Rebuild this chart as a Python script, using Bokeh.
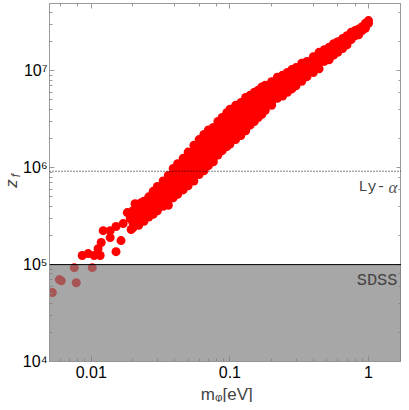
import math
from bokeh.plotting import figure
from bokeh.models import Label, Span, BoxAnnotation, LogAxis, Range1d, ColumnDataSource
from bokeh.embed import file_html
from bokeh.resources import INLINE

# ---------------- data ----------------
# sparse low-mass points (m_phi [eV], z_f)
low_m = [0.00524, 0.00589, 0.00608, 0.0078, 0.00755, 0.01017,
         0.00861, 0.0095, 0.0105, 0.0116, 0.0112, 0.0118, 0.0151, 0.0164,
         0.0137, 0.0122, 0.0137, 0.0151, 0.0170, 0.0194, 0.0182, 0.0191,
         0.0207, 0.0225, 0.0229, 0.0207]
low_z = [5.15e4, 7.0e4, 6.8e4, 6.5e4, 9.3e4, 9.3e4,
         1.24e5, 1.30e5, 1.24e5, 1.24e5, 1.46e5, 1.69e5, 1.36e5, 1.77e5,
         1.90e5, 2.24e5, 2.24e5, 2.47e5, 2.65e5, 2.30e5, 3.44e5, 2.98e5,
         3.2e5, 3.78e5, 4.35e5, 4.25e5]

# dense band: masses and the z_f values read at each mass
band_m = [0.02, 0.022, 0.024, 0.026, 0.028, 0.03, 0.033, 0.036, 0.039, 0.042,
          0.046, 0.05, 0.055, 0.06, 0.065, 0.07, 0.076, 0.082, 0.088, 0.095,
          0.1, 0.11, 0.12, 0.13, 0.14, 0.15, 0.16, 0.17, 0.18, 0.2,
          0.22, 0.24, 0.26, 0.28, 0.3, 0.33, 0.36, 0.4, 0.44, 0.48,
          0.52, 0.56, 0.6, 0.65, 0.7, 0.75, 0.8, 0.85, 0.9, 0.95, 1.0]
band_z = [
    [3.6e5, 3.1e5, 2.7e5, 2.4e5],
    [4.1e5, 3.6e5, 3.2e5, 2.8e5, 2.55e5],
    [4.5e5, 4.0e5, 3.5e5, 3.1e5, 2.8e5],
    [5.0e5, 4.5e5, 4.0e5, 3.5e5, 3.1e5],
    [5.7e5, 5.0e5, 4.5e5, 4.0e5, 3.5e5, 3.3e5],
    [6.4e5, 5.8e5, 5.1e5, 4.6e5, 4.1e5, 3.6e5],
    [7.3e5, 6.5e5, 5.8e5, 5.1e5, 4.6e5, 4.0e5],
    [8.3e5, 7.3e5, 6.5e5, 5.8e5, 5.1e5, 4.6e5, 4.1e5],
    [9.8e5, 8.6e5, 7.6e5, 6.8e5, 6.0e5, 5.3e5, 4.9e5],
    [1.1e6, 9.3e5, 8.3e5, 7.3e5, 6.5e5, 5.8e5, 5.3e5],
    [1.25e6, 1.1e6, 9.6e5, 8.5e5, 7.5e5, 6.7e5, 5.9e5],
    [1.45e6, 1.3e6, 1.15e6, 1.0e6, 9.0e5, 8.0e5, 7.1e5, 6.5e5],
    [1.7e6, 1.5e6, 1.33e6, 1.18e6, 1.05e6, 9.3e5, 8.3e5, 7.3e5],
    [1.95e6, 1.75e6, 1.55e6, 1.38e6, 1.22e6, 1.08e6, 9.6e5, 8.5e5],
    [2.2e6, 1.95e6, 1.7e6, 1.5e6, 1.33e6, 1.18e6, 1.05e6, 9.3e5],
    [2.45e6, 2.15e6, 1.9e6, 1.7e6, 1.5e6, 1.33e6, 1.18e6, 1.05e6],
    [2.6e6, 2.3e6, 2.05e6, 1.8e6, 1.6e6, 1.42e6, 1.25e6, 1.15e6],
    [3.0e6, 2.7e6, 2.4e6, 2.1e6, 1.9e6, 1.7e6, 1.5e6, 1.35e6],
    [3.3e6, 2.9e6, 2.6e6, 2.3e6, 2.05e6, 1.8e6, 1.6e6, 1.5e6],
    [3.7e6, 3.3e6, 2.9e6, 2.55e6, 2.25e6, 2.0e6, 1.8e6, 1.65e6],
    [4.0e6, 3.5e6, 3.1e6, 2.75e6, 2.45e6, 2.15e6, 1.9e6, 1.75e6],
    [4.4e6, 3.9e6, 3.4e6, 3.0e6, 2.7e6, 2.4e6, 2.1e6, 1.95e6],
    [4.7e6, 4.2e6, 3.7e6, 3.3e6, 2.9e6, 2.6e6, 2.3e6, 2.15e6],
    [5.3e6, 4.7e6, 4.2e6, 3.7e6, 3.3e6, 2.9e6, 2.6e6, 2.4e6],
    [5.6e6, 5.0e6, 4.4e6, 3.9e6, 3.5e6, 3.1e6, 2.75e6],
    [6.0e6, 5.3e6, 4.7e6, 4.2e6, 3.7e6, 3.3e6, 3.0e6],
    [6.3e6, 5.6e6, 5.0e6, 4.4e6, 3.9e6, 3.5e6, 3.3e6],
    [6.8e6, 6.0e6, 5.3e6, 4.7e6, 4.2e6, 3.8e6, 3.55e6],
    [7.1e6, 6.3e6, 5.6e6, 5.0e6, 4.4e6, 3.9e6],
    [7.7e6, 6.8e6, 6.0e6, 5.3e6, 4.7e6, 4.4e6],
    [8.6e6, 7.6e6, 6.7e6, 5.9e6, 5.2e6],
    [9.0e6, 8.0e6, 7.0e6, 6.2e6, 5.5e6],
    [9.6e6, 8.5e6, 7.5e6, 6.6e6, 6.0e6],
    [1.03e7, 9.1e6, 8.0e6, 7.1e6, 6.5e6],
    [1.08e7, 9.6e6, 8.5e6, 7.5e6, 7.0e6],
    [1.2e7, 1.05e7, 9.3e6, 8.2e6, 7.8e6],
    [1.25e7, 1.1e7, 9.8e6, 8.7e6],
    [1.4e7, 1.25e7, 1.1e7, 9.6e6],
    [1.55e7, 1.35e7, 1.2e7, 1.05e7],
    [1.65e7, 1.45e7, 1.25e7],
    [1.75e7, 1.55e7, 1.3e7],
    [1.9e7, 1.65e7, 1.45e7],
    [2.0e7, 1.75e7, 1.55e7],
    [2.15e7, 1.9e7, 1.7e7],
    [2.3e7, 2.05e7, 1.85e7],
    [2.5e7, 2.1e7],
    [2.6e7, 2.3e7],
    [2.7e7, 2.35e7],
    [2.85e7, 2.6e7],
    [3.1e7, 2.75e7],
    [3.3e7, 3.1e7],
]

sdss_z = 1e5       # SDSS bound
lya_z = 9.2e5      # Lyman-alpha bound
x_lo, x_hi = 0.005, 1.73
y_lo, y_hi = 1e4, 4.95e7
x_ticks = {0.01: "0.01", 0.1: "0.1", 1: "1"}
y_ticks = {10000: "10\u2074", 100000: "10\u2075", 1000000: "10\u2076", 10000000: "10\u2077"}

# ---------------- assemble ----------------
xs = list(low_m)
ys = list(low_z)
for m, zl in zip(band_m, band_z):
    for z in zl:
        xs.append(m)
        ys.append(z)
src = ColumnDataSource(dict(m=xs, z=ys))

FRAME = "#9a9a9a"
SANS = "Liberation Sans"

p = figure(width=401, height=402, x_axis_type="log", y_axis_type="log",
           x_range=Range1d(x_lo, x_hi), y_range=Range1d(y_lo, y_hi),
           output_backend="svg", toolbar_location=None,
           min_border_left=46, min_border_right=0, min_border_top=0, min_border_bottom=41)
p.grid.visible = False
p.outline_line_color = FRAME
p.background_fill_color = "white"
p.border_fill_color = "white"

p.scatter("m", "z", source=src, size=9, color="#ff0000", line_color=None)

for ax in (p.xaxis[0], p.yaxis[0]):
    ax.axis_line_color = FRAME
    ax.major_tick_line_color = FRAME
    ax.minor_tick_line_color = FRAME
    ax.major_tick_in = 5
    ax.major_tick_out = 0
    ax.minor_tick_in = 3
    ax.minor_tick_out = 0
    ax.major_label_text_font = SANS
    ax.major_label_text_font_size = "16px"
    ax.major_label_text_color = "black"
p.xaxis[0].major_label_overrides = x_ticks
p.yaxis[0].major_label_overrides = y_ticks
p.xaxis[0].major_label_standoff = 4
p.yaxis[0].major_label_standoff = 2

for side in ("right", "above"):
    ax = LogAxis(axis_line_color=FRAME, major_tick_line_color=FRAME, minor_tick_line_color=FRAME,
                 major_tick_in=5, major_tick_out=0, minor_tick_in=3, minor_tick_out=0,
                 major_label_text_font_size="1px", major_label_text_alpha=0,
                 major_label_standoff=0)
    p.add_layout(ax, side)

# shaded SDSS region and bounds
p.add_layout(BoxAnnotation(top=sdss_z, fill_color="#7d7d7d", fill_alpha=0.68, line_alpha=0))
p.add_layout(Span(location=sdss_z, dimension="width", line_color="black", line_width=1))
p.add_layout(Span(location=lya_z, dimension="width", line_color="black", line_width=1, line_dash="1 2"))

# labels on the bounds
p.add_layout(Label(x=x_hi, y=lya_z, x_offset=-16, y_offset=-16, text="Ly-", text_align="right",
                   text_baseline="alphabetic", text_font="Liberation Mono", text_font_size="15px"))
p.add_layout(Label(x=x_hi, y=lya_z, x_offset=-4, y_offset=-16, text="\u03b1", text_align="right",
                   text_baseline="alphabetic", text_font="Liberation Serif", text_font_style="italic",
                   text_font_size="17px", text_color="#555555"))
p.add_layout(Label(x=x_hi, y=sdss_z, x_offset=-4, y_offset=-16, text="SDSS", text_align="right",
                   text_baseline="alphabetic", text_font="Liberation Mono", text_font_size="17px"))

# x axis title  m_phi [eV]  (one label in the side panel, so it is not clipped to the frame)
p.add_layout(Label(x=0.1, y=y_lo, x_offset=-29, y_offset=-33, text="m\u1d69[eV]", text_font=SANS,
                   text_font_size="17px", text_baseline="alphabetic"), "below")

# y axis title  z_f (rotated)
p.add_layout(Label(x=x_lo, y=y_lo, x_offset=-38, y_offset=178, text="z", text_font=SANS,
                   text_font_style="italic", text_font_size="17px", angle=math.pi / 2,
                   text_align="center", text_baseline="middle"), "left")
p.add_layout(Label(x=x_lo, y=y_lo, x_offset=-34, y_offset=186, text="f", text_font=SANS,
                   text_font_style="italic", text_font_size="12px", angle=math.pi / 2,
                   text_align="center", text_baseline="middle"), "above")

open("out.html", "w").write(file_html(p, INLINE))
